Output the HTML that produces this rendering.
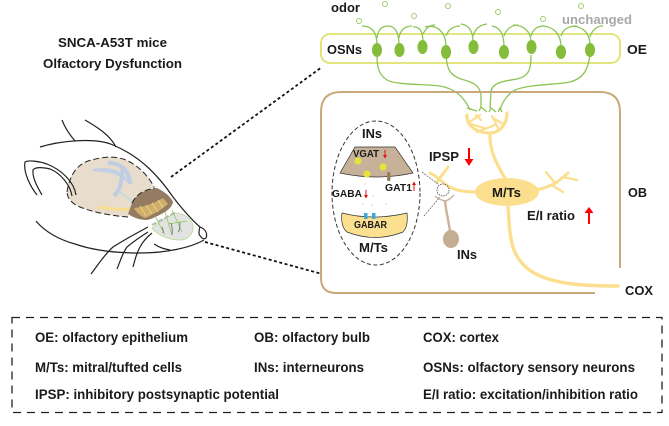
<!DOCTYPE html>
<html><head><meta charset="utf-8"><style>
html,body{margin:0;padding:0;background:#fff}svg{display:block}
text{font-family:"Liberation Sans",sans-serif;font-weight:700;fill:#1a1a1a}
</style></head><body>
<svg width="669" height="426" viewBox="0 0 669 426" xmlns="http://www.w3.org/2000/svg">
<!-- title -->
<text x="58" y="47" font-size="13" textLength="109" lengthAdjust="spacingAndGlyphs">SNCA-A53T mice</text>
<text x="43" y="68" font-size="13" textLength="139" lengthAdjust="spacingAndGlyphs">Olfactory Dysfunction</text>

<!-- mouse -->
<g fill="none">
<path d="M67 190C70 172 80 162 92 160C105 156 118 156 128 161C140 167 150 177 154 187L132 203L128 217C112 216 92 212 80 207C72 204 67 198 67 190Z" fill="#e8dccd"/>
<path d="M93 169C102 167 110 168 116 170C124 174 128 179 130 184C126 182 122 177 116 175C108 172 100 172 93 171Z" fill="#c3d0e4"/>
<path d="M108 163C122 163 130 172 130 184" stroke="#bfcde3" stroke-width="4"/>
<path d="M123 168C121 180 122 188 114 196" stroke="#bfcde3" stroke-width="4"/>
<path d="M120 192L135 204" stroke="#c5dcdc" stroke-width="2"/>
<path d="M98 207C110 209 120 210 132 209" stroke="#f7dd8c" stroke-width="3"/>
<path d="M132 203C136 195 143 190 157 188C165 192 171 197 173 202C172 207 168 210 165 212C158 216 152 219 147 220C140 220 134 218 128 214Z" fill="#937c62"/>
<path d="M134 208C146 207 156 202 163 198L168 204C160 211 150 216 145 218C140 216 136 212 134 208Z" fill="#cfae6e"/>
<path d="M140 206L146 216M146 205L152 214M152 203L158 212M158 200L163 208" stroke="#f0d07a" stroke-width="1"/>
<path d="M152 228C160 222 170 214 178 213C188 215 194 222 193 229C192 236 186 240 180 240C170 240 158 236 152 228Z" fill="#e3e3e3" stroke="#b5dc90" stroke-width=".8"/>
<path d="M152 225L176 212" stroke="#b9b9b9" stroke-width="2" stroke-dasharray="5 2"/>
<path d="M155 216L165 235M165 212L172 235M172 210L182 232M168 224L187 221" stroke="#8ccb5a" stroke-width=".8"/>
<path d="M162 227C164 231 163 234 163 232M171 223C173 228 172 233 172 235M180 222C180 228 179 232 178 232" stroke="#666" stroke-width=".8"/>
<path d="M67 192C70 172 80 162 92 160C105 156 118 156 128 161C138 166 148 175 154 187M128 217C112 216 92 212 80 207C72 204 67 198 67 192" stroke="#222" stroke-width="1" stroke-dasharray="6 3"/>
<path d="M132 203C136 195 143 190 155 188" stroke="#222" stroke-width="1" stroke-dasharray="6 3"/>
<g stroke="#222" stroke-width="1.200">
<path d="M40 147C60 141 95 137 113 145C142 157 160 178 173 197C183 210 192 220 200 227"/>
<path d="M200 227C205 229 208 233 206 238C204 240 201 238 199 234C199 231 199 229 200 227Z"/>
<path d="M36 221C45 232 60 240 75 244C95 251 120 253 140 253C165 253 190 248 204 240"/>
<path d="M154 244C160 248 165 249 170 250"/>
<path d="M148 227C135 234 122 241 113 247C104 255 98 265 91 274"/>
<path d="M148 232C140 237 133 242 127 247C122 254 120 262 117 269"/>
<path d="M152 233C146 238 142 243 140 247C136 254 135 260 133 267"/>
<path d="M62 120C65 128 70 135 75 141"/>
<path d="M85 120C97 127 110 135 116 147"/>
<path d="M76 195C74 182 62 170 47 164C38 161 28 160 25 162C23 172 30 186 37 195"/>
<path d="M72 196C70 184 60 173 50 169C42 167 35 167 33 170C32 178 38 188 42 195"/>
</g>
</g>
<line x1="171" y1="177" x2="322" y2="67" stroke="#111" stroke-width="1.800" stroke-dasharray="3 2.500"/>
<line x1="205" y1="242" x2="322" y2="274" stroke="#111" stroke-width="1.800" stroke-dasharray="3 2.500"/>

<!-- OE -->
<rect x="321" y="34" width="299" height="29" rx="9" fill="none" stroke="#dfe26c" stroke-width="1.800"/>
<g fill="none" stroke="#9fcf66" stroke-width="1">
<circle cx="385" cy="4" r="2.500"/><circle cx="448" cy="6" r="2.500"/><circle cx="498" cy="12" r="2.500"/><circle cx="581" cy="6" r="2.500"/><circle cx="543" cy="19" r="2.500"/><circle cx="414" cy="16" r="2.500"/><circle cx="359" cy="21" r="2.500"/>
</g>
<g fill="none" stroke="#8cc454" stroke-width="1.300">
<path d="M362 26C372 26 377 32 377 45"/><path d="M377 38C378 30 382 26 388 26C394 26 399 31 399 45"/>
<path d="M399 38C400 30 405 26 412 26"/><path d="M413 27C419 26 423 31 423 42"/>
<path d="M423 34C426 28 430 25 435 25"/><path d="M425 27C437 24 446 32 446 47"/>
<path d="M446 36C448 30 453 26 460 26"/><path d="M461 24C468 25 473 30 473 42"/>
<path d="M473 36C475 29 480 25 487 24"/><path d="M492 26C499 27 504 33 504 47"/>
<path d="M504 36C506 29 512 25 518 25"/><path d="M513 25C523 25 531 31 531 42"/>
<path d="M531 36C533 29 538 26 544 26"/><path d="M543 26C553 27 561 33 561 47"/>
<path d="M561 36C563 29 569 26 577 26"/><path d="M573 26C583 27 590 33 590 45"/>
<path d="M590 37C592 30 597 26 603 26"/>
<path d="M377 55C377 66 378 74 387 80C395 85 425 84 440 86C452 88 463 94 470 110"/>
<path d="M446 55C447 68 449 75 461 79C472 82 480 85 481 95L481 108"/>
<path d="M531 55C531 68 530 76 517 79C505 81 492 82 491 92L490 108"/>
<path d="M590 55C588 68 585 78 570 82C555 85 530 84 515 90C508 94 503 100 500 110"/>
<path d="M467 108L477 111M479 111L481 107L487 112M489 112L491 108L496 112M498 112L500 108L502 112"/>
</g>
<g fill="#84bd3a">
<ellipse cx="377" cy="50" rx="5" ry="7"/><ellipse cx="399.500" cy="50" rx="5" ry="7"/><ellipse cx="422.500" cy="47" rx="5" ry="7"/><ellipse cx="446" cy="52" rx="5" ry="7"/><ellipse cx="473.500" cy="47" rx="5" ry="7"/><ellipse cx="504" cy="52" rx="5" ry="7"/><ellipse cx="531.500" cy="47" rx="5" ry="7"/><ellipse cx="561" cy="52" rx="5" ry="7"/><ellipse cx="590" cy="50" rx="5" ry="7"/>
</g>
<text x="331" y="12" font-size="13" textLength="29" lengthAdjust="spacingAndGlyphs">odor</text>
<text x="562" y="24" font-size="13" textLength="70" lengthAdjust="spacingAndGlyphs" style="fill:#a8a8a8">unchanged</text>
<text x="327" y="54" font-size="13" textLength="35" lengthAdjust="spacingAndGlyphs">OSNs</text>
<text x="627" y="54" font-size="13" textLength="20" lengthAdjust="spacingAndGlyphs">OE</text>

<!-- OB box -->
<path d="M620 268V112Q620 92 600 92H341Q321 92 321 112V278Q321 293 336 293H595" fill="none" stroke="#c9a97c" stroke-width="2"/>
<text x="628" y="197" font-size="13" textLength="19" lengthAdjust="spacingAndGlyphs">OB</text>
<text x="625" y="295" font-size="13" textLength="28" lengthAdjust="spacingAndGlyphs">COX</text>

<!-- M/T neuron -->
<g fill="none" stroke="#fbdf8f" stroke-width="3" stroke-linecap="round">
<path d="M467 115C466 125 476 133 490 133C499 133 507 125 507 113" stroke-width="3.200"/>
<path d="M468 123L480 115M471 124L484 128M477 132L495 125M493 118L503 124M498 128L492 116M481 120L476 115" stroke-width="2.200"/>
<path d="M490 133C489 150 497 165 505 178" stroke-width="3.200"/>
<path d="M508 205C509 225 510 240 514 250C522 270 540 280 573 284C590 286 605 286 618 286" stroke-width="3.400"/>
<path d="M476 192C462 192 453 190 445 184C440 180 435 175 430 173" stroke-width="3"/>
<path d="M448 167L437 182"/>
<path d="M537 190C545 188 552 185 556 183L568 173"/>
<path d="M546 172L555 183M553 186L563 192M563 177L577 180" stroke-width="2.400"/>
</g>
<ellipse cx="507" cy="192" rx="32" ry="14" fill="#fbdf8f"/>
<text x="492" y="197" font-size="13" textLength="29" lengthAdjust="spacingAndGlyphs">M/Ts</text>
<text x="429" y="161" font-size="13" textLength="30" lengthAdjust="spacingAndGlyphs">IPSP</text>
<text x="527" y="220" font-size="13" textLength="48" lengthAdjust="spacingAndGlyphs">E/I ratio</text>
<path d="M468 148H470V159H473.500L469 166L464.500 159H468Z" fill="#f00"/>
<path d="M588 224H590V213H593.500L589 207L584.500 213H588Z" fill="#f00"/>

<!-- IN neuron -->
<g fill="none" stroke="#c9b499" stroke-width="2.400">
<path d="M445 201C446 212 449 222 450 232"/>
<path d="M435 196C438 199 441 200 445 201C449 200 451 198 454 195" stroke-width="1.500"/>
</g>
<ellipse cx="451" cy="239" rx="8" ry="9" fill="#c4ae92"/>
<text x="457" y="259" font-size="13" textLength="20" lengthAdjust="spacingAndGlyphs">INs</text>
<circle cx="443" cy="190" r="6" fill="#fff" fill-opacity=".4" stroke="#333" stroke-width=".7" stroke-dasharray="1.500 1"/>
<path d="M422 172L439 185M424 216L440 197" stroke="#555" stroke-width=".7" stroke-dasharray="2 1"/>

<!-- synapse ellipse -->
<ellipse cx="376" cy="193" rx="44" ry="72" fill="#fff" stroke="#333" stroke-width="1" stroke-dasharray="4 2.500"/>
<text x="362" y="138" font-size="13" textLength="20" lengthAdjust="spacingAndGlyphs">INs</text>
<path d="M355 147H395L413 173Q377 181 340 173Z" fill="#c7b299" stroke="#333" stroke-width=".7"/>
<circle cx="358" cy="161" r="3.500" fill="#e8e33a"/><circle cx="383" cy="167" r="3.500" fill="#e8e33a"/><circle cx="367" cy="174" r="3.500" fill="#e8e33a"/>
<rect x="387" y="172" width="3.500" height="9" rx="1.500" fill="#9a7d5a"/>
<text x="353" y="157" font-size="10.500" textLength="26" lengthAdjust="spacingAndGlyphs">VGAT</text>
<path d="M384.500 150H385.500V155H387L385 158.500L383 155H384.500Z" fill="#e01010"/>
<text x="385" y="191" font-size="10.500" textLength="27" lengthAdjust="spacingAndGlyphs">GAT1</text>
<path d="M413.500 191H414.500V185H416L414 181.500L412 185H413.500Z" fill="#e01010"/>
<text x="332" y="197" font-size="10.500" textLength="30" lengthAdjust="spacingAndGlyphs">GABA</text>
<path d="M365.500 190H366.500V195H368L366 198.500L364 195H365.500Z" fill="#e01010"/>
<g fill="#e8a9a0"><circle cx="365" cy="184" r=".6"/><circle cx="363" cy="204" r=".6"/><circle cx="373" cy="196" r=".6"/><circle cx="372" cy="205" r=".6"/><circle cx="386" cy="204" r=".6"/><circle cx="394" cy="170" r=".6"/></g>
<path d="M342 213Q373 221 407 213C408 222 407 228 403 232Q375 243 347 232C342 228 341 220 342 213Z" fill="#fbe08f" stroke="#333" stroke-width=".7"/>
<rect x="364" y="213" width="3.500" height="6" fill="#3fa9dc"/><rect x="372" y="213" width="3.500" height="6" fill="#3fa9dc"/>
<text x="354" y="228" font-size="10.500" textLength="33" lengthAdjust="spacingAndGlyphs">GABAR</text>
<text x="359" y="252" font-size="13" textLength="29" lengthAdjust="spacingAndGlyphs">M/Ts</text>

<!-- legend -->
<rect x="12" y="317.500" width="650" height="95" fill="none" stroke="#222" stroke-width="1.300" stroke-dasharray="8 6"/>
<g font-size="13.500">
<text x="35" y="342" textLength="153" lengthAdjust="spacingAndGlyphs">OE: olfactory epithelium</text>
<text x="254" y="342" textLength="116" lengthAdjust="spacingAndGlyphs">OB: olfactory bulb</text>
<text x="423" y="342" textLength="76" lengthAdjust="spacingAndGlyphs">COX: cortex</text>
<text x="35" y="372" textLength="147" lengthAdjust="spacingAndGlyphs">M/Ts: mitral/tufted cells</text>
<text x="254" y="372" textLength="110" lengthAdjust="spacingAndGlyphs">INs: interneurons</text>
<text x="423" y="372" textLength="212" lengthAdjust="spacingAndGlyphs">OSNs: olfactory sensory neurons</text>
<text x="35" y="399" textLength="244" lengthAdjust="spacingAndGlyphs">IPSP: inhibitory postsynaptic potential</text>
<text x="423" y="399" textLength="215" lengthAdjust="spacingAndGlyphs">E/I ratio: excitation/inhibition ratio</text>
</g>
</svg>
</body></html>
